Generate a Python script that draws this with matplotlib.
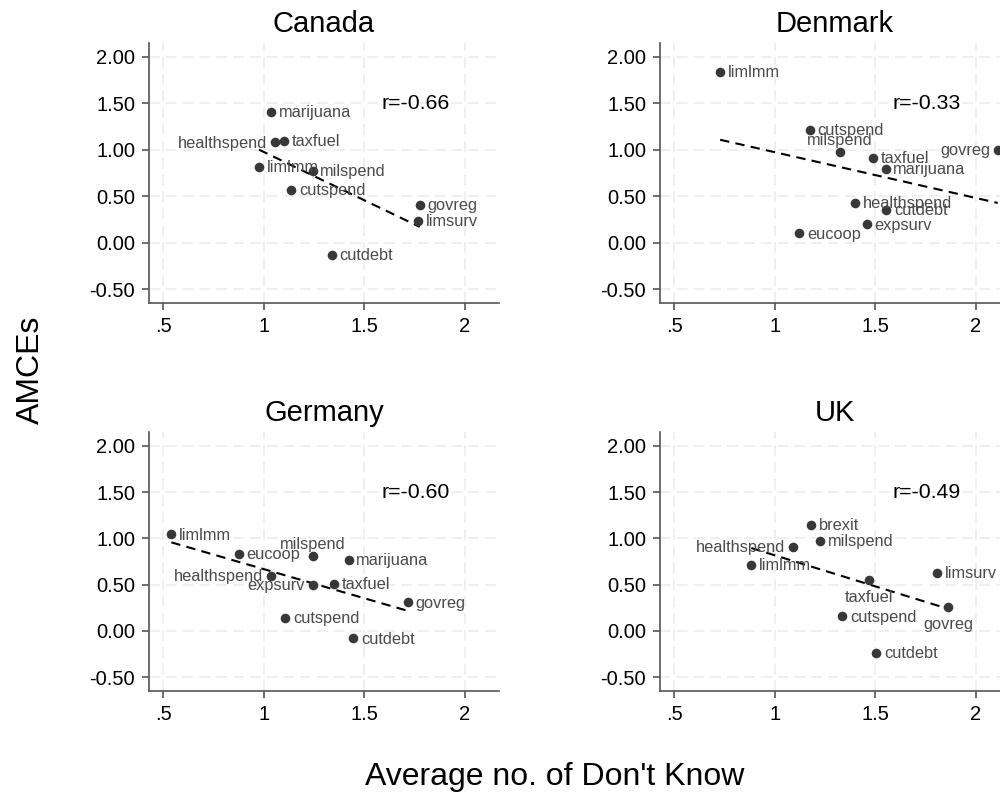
import numpy as np
import matplotlib
matplotlib.use("Agg")
import matplotlib.pyplot as plt

plt.rcParams['font.family'] = ['Liberation Sans', 'DejaVu Sans']

# average number of "don't know" answers vs. AMCE per policy item
canada_items = ['marijuana', 'healthspend', 'taxfuel', 'limlmm', 'milspend',
                'cutspend', 'govreg', 'limsurv', 'cutdebt']
canada_dk = [1.038, 1.054, 1.100, 0.977, 1.244, 1.137, 1.776, 1.769, 1.340]
canada_amce = [1.41, 1.08, 1.10, 0.82, 0.77, 0.57, 0.41, 0.23, -0.13]

denmark_items = ['limlmm', 'cutspend', 'milspend', 'taxfuel', 'marijuana',
                 'govreg', 'healthspend', 'cutdebt', 'expsurv', 'eucoop']
denmark_dk = [0.729, 1.175, 1.325, 1.491, 1.552, 2.109, 1.399, 1.556, 1.458, 1.122]
denmark_amce = [1.84, 1.21, 0.98, 0.915, 0.79, 1.00, 0.43, 0.35, 0.197, 0.10]

germany_items = ['limlmm', 'eucoop', 'milspend', 'marijuana', 'healthspend',
                 'expsurv', 'taxfuel', 'govreg', 'cutspend', 'cutdebt']
germany_dk = [0.541, 0.875, 1.244, 1.423, 1.037, 1.244, 1.351, 1.716, 1.108, 1.445]
germany_amce = [1.043, 0.836, 0.811, 0.771, 0.596, 0.493, 0.511, 0.307, 0.143, -0.082]

uk_items = ['brexit', 'milspend', 'healthspend', 'limlmm', 'taxfuel',
            'limsurv', 'govreg', 'cutspend', 'cutdebt']
uk_dk = [1.182, 1.225, 1.092, 0.884, 1.468, 1.809, 1.863, 1.337, 1.505]
uk_amce = [1.148, 0.977, 0.912, 0.712, 0.551, 0.626, 0.254, 0.157, -0.240]

r_labels = ['r=-0.66', 'r=-0.33', 'r=-0.60', 'r=-0.49']

# marker label placement (clock position), default is 3 o'clock
label_pos = [
    {'healthspend': 9},
    {'milspend': 12, 'govreg': 9},
    {'milspend': 12, 'healthspend': 9, 'expsurv': 9},
    {'healthspend': 9, 'taxfuel': 6, 'govreg': 6},
]

panels = [
    ('Canada', canada_items, canada_dk, canada_amce),
    ('Denmark', denmark_items, denmark_dk, denmark_amce),
    ('Germany', germany_items, germany_dk, germany_amce),
    ('UK', uk_items, uk_dk, uk_amce),
]

W, H = 1000, 794
fig = plt.figure(figsize=(W / 100, H / 100), dpi=100)

# axes boxes in pixels: left, top, width, height
boxes = [(149, 43, 350, 260), (660, 43, 350, 260),
         (149, 432, 350, 259), (660, 432, 350, 259)]

offsets = {3: (5.5, -0.5, 'left', 'center'),
           9: (-5.5, -0.5, 'right', 'center'),
           12: (0, 8, 'center', 'center'),
           6: (0, -12.5, 'center', 'center')}

for i, (name, items, xs, ys) in enumerate(panels):
    l, t, w, h = boxes[i]
    ax = fig.add_axes([l / W, 1 - (t + h) / H, w / W, h / H])
    ax.set_xlim(0.43, 2.17)
    ax.set_ylim(-0.65, 2.15)
    ax.set_xticks([0.5, 1, 1.5, 2])
    ax.set_xticklabels(['.5', '1', '1.5', '2'])
    yt = [-0.5, 0, 0.5, 1, 1.5, 2]
    ax.set_yticks(yt)
    ax.set_yticklabels(['%.2f' % v for v in yt])
    ax.grid(True, color='#ebebeb', linestyle=(0, (7, 4)), linewidth=1.1)
    ax.set_axisbelow(True)
    for s in ['top', 'right']:
        ax.spines[s].set_visible(False)
    for s in ['left', 'bottom']:
        ax.spines[s].set_color('#555555')
        ax.spines[s].set_linewidth(1.2)
    ax.tick_params(direction='out', length=5, width=1.2, color='#555555',
                   labelsize=14.5, labelcolor='black', pad=5)

    xs = np.array(xs)
    ys = np.array(ys)
    # linear fit
    b, a = np.polyfit(xs, ys, 1)
    fx = np.array([xs.min(), xs.max()])
    ax.plot(fx, a + b * fx, color='black', linestyle=(0, (4.5, 3)), linewidth=1.5,
            zorder=3)

    ax.scatter(xs, ys, s=48, color='#383838', zorder=4, linewidths=0)
    for item, x, y in zip(items, xs, ys):
        pos = label_pos[i].get(item, 3)
        dx, dy, ha, va = offsets[pos]
        ax.annotate(item, (x, y), xytext=(dx, dy), textcoords='offset points',
                    ha=ha, va=va, fontsize=11.8, color='#4a4a4a', zorder=5)

    ax.text(1.755, 1.5, r_labels[i], ha='center', va='center', fontsize=15.3,
            color='black')
    ax.set_title(name, fontsize=21, pad=8)

fig.text(0.031, 0.534, 'AMCEs', rotation=90, ha='center', va='center',
         fontsize=23)
fig.text(0.5545, 0.021, "Average no. of Don't Know", ha='center', va='center',
         fontsize=23)

fig.savefig('out.png', dpi=100)
